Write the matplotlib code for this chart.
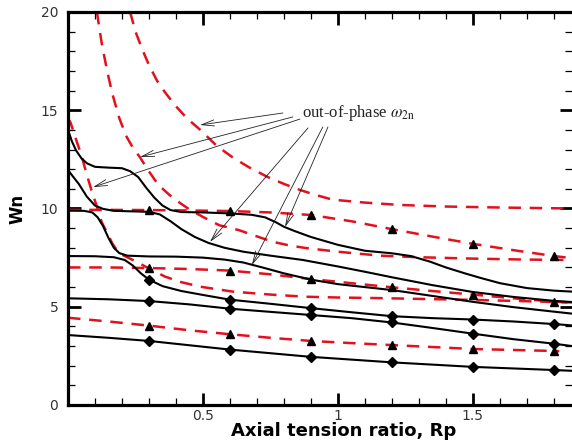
import matplotlib
matplotlib.use('Agg')
import matplotlib.pyplot as plt
from matplotlib.ticker import MultipleLocator, FixedLocator

plt.rcParams['mathtext.fontset'] = 'stix'

# marker stations along the tension ratio
xm = [0.3, 0.6, 0.9, 1.2, 1.5, 1.8]

# ---- solid curves (black) ----
s1_x = [0, 0.15, 0.3, 0.6, 0.9, 1.2, 1.5, 1.8, 1.867]
s1_y = [3.56, 3.42, 3.26, 2.82, 2.45, 2.17, 1.94, 1.78, 1.74]
s1_m = [3.26, 2.82, 2.45, 2.17, 1.94, 1.78]

s2_x = [0, 0.15, 0.3, 0.45, 0.6, 0.75, 0.9, 1.05, 1.2, 1.35, 1.5, 1.65, 1.8, 1.867]
s2_y = [5.43, 5.38, 5.29, 5.12, 4.9, 4.74, 4.58, 4.42, 4.2, 3.92, 3.63, 3.35, 3.12, 3.0]
s2_m = [5.29, 4.9, 4.58, 4.2, 3.63, 3.12]

s3_x = [0, 0.1, 0.17, 0.21, 0.24, 0.27, 0.3, 0.35, 0.42, 0.5, 0.6, 0.75, 0.9, 1.05,
        1.2, 1.35, 1.5, 1.65, 1.8, 1.867]
s3_y = [7.58, 7.57, 7.52, 7.38, 7.1, 6.7, 6.38, 6.05, 5.8, 5.6, 5.36, 5.15, 4.93, 4.72,
        4.52, 4.42, 4.35, 4.25, 4.12, 4.05]
s3_m = [6.38, 5.36, 4.93, 4.52, 4.35, 4.12]

s4_x = [0, 0.06, 0.09, 0.11, 0.13, 0.15, 0.17, 0.19, 0.22, 0.3, 0.4, 0.5, 0.58, 0.65,
        0.72, 0.8, 0.9, 1.0, 1.1, 1.2, 1.35, 1.5, 1.65, 1.8, 1.867]
s4_y = [9.89, 9.88, 9.8, 9.55, 9.1, 8.5, 8.0, 7.73, 7.6, 7.56, 7.55, 7.5, 7.4, 7.25,
        7.0, 6.7, 6.38, 6.15, 6.0, 5.85, 5.55, 5.25, 4.98, 4.75, 4.65]

s5_x = [0, 0.02, 0.04, 0.07, 0.1, 0.13, 0.17, 0.25, 0.3, 0.34, 0.38, 0.42, 0.47, 0.52,
        0.58, 0.65, 0.75, 0.87, 1.0, 1.1, 1.2, 1.35, 1.5, 1.65, 1.8, 1.867]
s5_y = [11.96, 11.6, 11.25, 10.6, 10.15, 9.98, 9.88, 9.85, 9.83, 9.7, 9.35, 8.95, 8.55, 8.25,
        8.0, 7.8, 7.6, 7.38, 7.05, 6.78, 6.5, 6.1, 5.75, 5.5, 5.3, 5.24]

s6_x = [0, 0.015, 0.03, 0.05, 0.07, 0.1, 0.15, 0.2, 0.23, 0.26, 0.29, 0.32, 0.35, 0.38,
        0.42, 0.5, 0.6, 0.68, 0.73, 0.77, 0.8, 0.84, 0.9, 1.0, 1.1, 1.2, 1.27, 1.34, 1.4,
        1.47, 1.53, 1.6, 1.7, 1.8, 1.867]
s6_y = [14.0, 13.4, 12.95, 12.55, 12.3, 12.12, 12.08, 12.05, 11.9, 11.6, 11.05, 10.55, 10.15, 9.92,
        9.82, 9.8, 9.75, 9.68, 9.55, 9.3, 9.07, 8.85, 8.55, 8.15, 7.85, 7.72, 7.58, 7.3, 7.0,
        6.7, 6.46, 6.2, 5.95, 5.82, 5.77]

# ---- dashed curves (red) with triangle markers ----
t1_x = [0, 0.15, 0.3, 0.45, 0.6, 0.75, 0.9, 1.05, 1.2, 1.35, 1.5, 1.65, 1.8, 1.85]
t1_y = [9.93, 9.93, 9.92, 9.9, 9.87, 9.8, 9.67, 9.35, 8.95, 8.57, 8.2, 7.88, 7.58, 7.5]
t1_m = [9.92, 9.87, 9.67, 8.95, 8.2, 7.58]

t2_x = [0, 0.15, 0.3, 0.45, 0.6, 0.75, 0.9, 1.05, 1.2, 1.35, 1.5, 1.65, 1.8, 1.85]
t2_y = [7.0, 7.0, 6.97, 6.92, 6.84, 6.65, 6.41, 6.2, 5.99, 5.8, 5.62, 5.43, 5.26, 5.22]
t2_m = [6.97, 6.84, 6.41, 5.99, 5.62, 5.26]

t3_x = [0, 0.15, 0.3, 0.45, 0.6, 0.75, 0.9, 1.05, 1.2, 1.35, 1.5, 1.65, 1.8, 1.82]
t3_y = [4.44, 4.25, 4.04, 3.8, 3.6, 3.42, 3.26, 3.15, 3.05, 2.95, 2.85, 2.8, 2.75, 2.74]
t3_m = [4.04, 3.6, 3.26, 3.05, 2.85, 2.75]

# ---- dashed out-of-phase curves (red, no markers) ----
o1_x = [0, 0.01, 0.03, 0.05, 0.07, 0.09, 0.107, 0.125, 0.145, 0.165, 0.18, 0.2, 0.215, 0.24,
        0.3, 0.36, 0.42, 0.49, 0.61, 0.75, 0.88, 1.0, 1.15, 1.3, 1.5, 1.7, 1.867]
o1_y = [14.6, 14.35, 13.5, 12.7, 11.7, 10.8, 10.1, 9.3, 8.75, 8.2, 7.9, 7.65, 7.55, 7.38,
        6.95, 6.53, 6.25, 6.02, 5.77, 5.62, 5.51, 5.47, 5.44, 5.4, 5.35, 5.28, 5.22]

o2_x = [0.107, 0.125, 0.145, 0.165, 0.19, 0.215, 0.24, 0.267, 0.296, 0.335, 0.375, 0.415,
        0.45, 0.5, 0.56, 0.633, 0.7, 0.76, 0.82, 0.88, 1.0, 1.156, 1.3, 1.5, 1.7, 1.867]
o2_y = [20.0, 18.4, 17.0, 15.8, 14.6, 13.7, 13.1, 12.6, 11.96, 11.2, 10.7, 10.28,
        9.95, 9.57, 9.15, 8.9, 8.58, 8.3, 8.12, 7.99, 7.8, 7.6, 7.52, 7.45, 7.4, 7.38]

o3_x = [0.23, 0.25, 0.275, 0.3, 0.33, 0.36, 0.4, 0.44, 0.49, 0.55, 0.61, 0.67, 0.74, 0.8,
        0.86, 0.92, 0.98, 1.1, 1.23, 1.4, 1.6, 1.867]
o3_y = [20.0, 19.0, 18.1, 17.3, 16.5, 15.9, 15.2, 14.6, 14.0, 13.2, 12.6, 12.1, 11.6, 11.25,
        10.94, 10.68, 10.45, 10.3, 10.18, 10.1, 10.05, 10.0]

# annotation arrows: (tail, tip)
note_xy = (0.867, 14.86)
arrows = [((0.796, 14.86), (0.489, 14.25)),
          ((0.833, 14.66), (0.267, 12.62)),
          ((0.859, 14.55), (0.093, 11.09)),
          ((0.889, 14.10), (0.526, 8.30)),
          ((0.944, 14.15), (0.681, 7.12)),
          ((0.963, 14.15), (0.804, 9.06))]

red = '#e3101e'
fig = plt.figure(figsize=(5.72, 4.45), dpi=100)
ax = fig.add_axes([68 / 572, 40 / 445, 504 / 572, 393 / 445])

dash = (0, (5, 3.5))
for xs, ys in [(o1_x, o1_y), (o2_x, o2_y), (o3_x, o3_y),
               (t1_x, t1_y), (t2_x, t2_y), (t3_x, t3_y)]:
    ax.plot(xs, ys, color=red, lw=1.8, ls=dash, zorder=2)

for xs, ys in [(s1_x, s1_y), (s2_x, s2_y), (s3_x, s3_y),
               (s4_x, s4_y), (s5_x, s5_y), (s6_x, s6_y)]:
    ax.plot(xs, ys, color='k', lw=1.5, zorder=3, solid_capstyle='round')

for ym in [t1_m, t2_m, t3_m]:
    ax.plot(xm, ym, ls='none', marker='^', ms=6, color='k', zorder=4)
for ym in [s1_m, s2_m, s3_m]:
    ax.plot(xm, ym, ls='none', marker='D', ms=5, color='k', zorder=4)

for tail, tip in arrows:
    ax.annotate('', xy=tip, xytext=tail,
                arrowprops=dict(arrowstyle='->,head_length=0.9,head_width=0.22',
                                lw=0.6, color='#222222', shrinkA=0, shrinkB=0))
ax.text(note_xy[0], note_xy[1], 'out-of-phase $\\omega_{\\mathrm{2n}}$',
        family='Liberation Serif', fontsize=12, va='center', ha='left', color='#222222')

ax.set_xlim(0, 1.867)
ax.set_ylim(0, 20)
ax.xaxis.set_major_locator(FixedLocator([0.5, 1.0, 1.5]))
ax.xaxis.set_minor_locator(MultipleLocator(0.1))
ax.yaxis.set_major_locator(MultipleLocator(5))
ax.yaxis.set_minor_locator(MultipleLocator(1))
ax.set_xticklabels(['0.5', '1', '1.5'])

ax.tick_params(which='both', direction='in', top=True, right=True, colors='k',
               labelcolor='#333333', labelsize=10)
ax.tick_params(which='major', length=9, width=2)
ax.tick_params(which='minor', length=5, width=0.9)
ax.tick_params(axis='x', pad=3)
ax.tick_params(axis='y', pad=7)

for side in ['left', 'bottom', 'top']:
    ax.spines[side].set_linewidth(2.3)
ax.spines['right'].set_visible(False)

ax.set_xlabel('Axial tension ratio, Rp', fontsize=13, fontweight='bold')
ax.xaxis.set_label_coords(0.547, -0.044)
ax.set_ylabel('Wn', fontsize=12, fontweight='bold')
ax.yaxis.set_label_coords(-0.082, 0.5)

fig.savefig('out.png', dpi=100)
